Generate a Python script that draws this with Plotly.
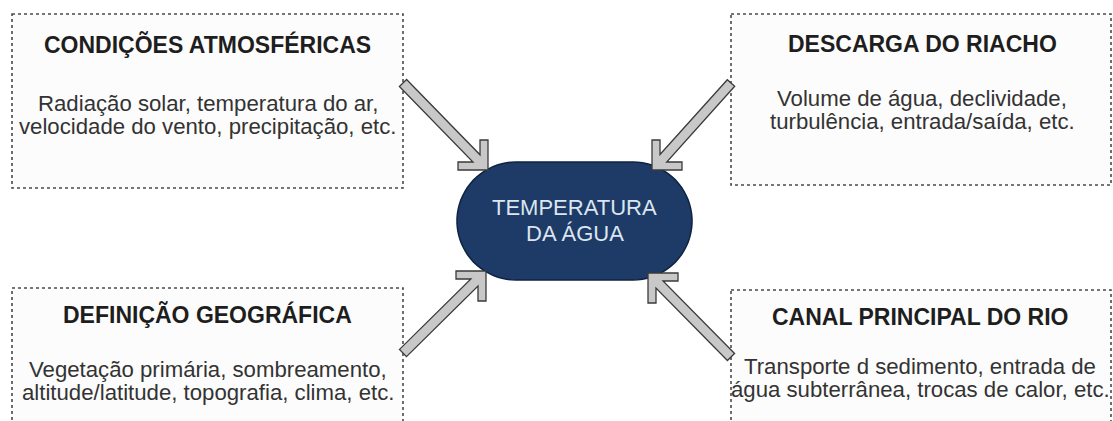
import numpy as np
import plotly.graph_objects as go

# ---- content ----
box_titles = ["CONDIÇÕES ATMOSFÉRICAS", "DESCARGA DO RIACHO",
              "DEFINIÇÃO GEOGRÁFICA", "CANAL PRINCIPAL DO RIO"]
box_lines = [["Radiação solar, temperatura do ar,", "velocidade do vento, precipitação, etc."],
             ["Volume de água, declividade,", "turbulência, entrada/saída, etc."],
             ["Vegetação primária, sombreamento,", "altitude/latitude, topografia, clima, etc."],
             ["Transporte d sedimento, entrada de", "água subterrânea, trocas de calor, etc."]]
center_lines = ["TEMPERATURA", "DA ÁGUA"]

# ---- layout geometry (pixels, y down) ----
W, H = 1113, 421
boxes = [(12, 14, 403, 188), (731, 14, 1111, 185),
         (12, 288, 403, 440), (731, 290, 1111, 440)]
text_cx = [207.5, 922, 207.5, 920]
title_y = [44, 44, 314, 317]
line1_y = [103, 98, 369, 366]
LINE_GAP = 23.5
arrow_start = [(403, 83), (731, 83), (403, 353), (731, 357)]
arrow_tip = [(488, 170), (652, 170), (486, 271), (648, 273)]
oval = (457, 162, 692, 280)
center_y = [207, 233]

fig = go.Figure()
fig.add_trace(go.Scatter(x=[0, W], y=[0, H], mode="markers", marker=dict(opacity=0),
                         hoverinfo="skip", showlegend=False))

shapes = []
annotations = []
font = "Liberation Sans, Arial, sans-serif"

for i, (x0, y0, x1, y1) in enumerate(boxes):
    shapes.append(dict(type="rect", x0=x0, y0=y0, x1=x1, y1=y1,
                       line=dict(color="#4a4a4a", width=1.6, dash="dot"),
                       fillcolor="rgba(252,252,252,1)", layer="below"))
    cx = text_cx[i]
    annotations.append(dict(x=cx, y=title_y[i], text="<b>" + box_titles[i] + "</b>",
                            showarrow=False, xanchor="center", yanchor="middle",
                            font=dict(family=font, size=23, color="#1e1e1e")))
    for k, line in enumerate(box_lines[i]):
        annotations.append(dict(x=cx, y=line1_y[i] + k * LINE_GAP, text=line,
                                showarrow=False, xanchor="center", yanchor="middle",
                                font=dict(family=font, size=22.2, color="#333333")))

# stadium oval
ox0, oy0, ox1, oy1 = oval
r = (oy1 - oy0) / 2
cy = (oy0 + oy1) / 2
pts = []
for a in np.linspace(-np.pi / 2, np.pi / 2, 40):
    pts.append((ox1 - r + r * np.cos(a), cy + r * np.sin(a)))
for a in np.linspace(np.pi / 2, 3 * np.pi / 2, 40):
    pts.append((ox0 + r + r * np.cos(a), cy + r * np.sin(a)))
path = "M " + " L ".join(f"{x:.1f},{y:.1f}" for x, y in pts) + " Z"
shapes.append(dict(type="path", path=path, fillcolor="#1d3b66",
                   line=dict(color="#0e2342", width=1.5)))
for k, line in enumerate(center_lines):
    annotations.append(dict(x=(ox0 + ox1) / 2, y=center_y[k], text=line, showarrow=False,
                            xanchor="center", yanchor="middle",
                            font=dict(family=font, size=22, color="#dce5f0")))

# block arrows with chevron heads
ARM, THK, SW = 30, 8, 10
for S, T in zip(arrow_start, arrow_tip):
    Sx, Sy = S
    Tx, Ty = T
    sx = 1 if Tx > Sx else -1
    sy = 1 if Ty > Sy else -1
    Ix, Iy = Tx - sx * THK, Ty - sy * THK
    d = np.array([Ix - Sx, Iy - Sy], float)
    d /= np.linalg.norm(d)
    n = np.array([-d[1], d[0]])
    edges = []
    for sgn in (1, -1):
        E = np.array([Sx, Sy]) + sgn * n * SW / 2
        tx = (Ix - E[0]) / d[0]
        ty = (Iy - E[1]) / d[1]
        if tx < ty:
            edges.append(("x", E, E + d * tx))
        else:
            edges.append(("y", E, E + d * ty))
    ex = [e for e in edges if e[0] == "x"][0]
    ey = [e for e in edges if e[0] == "y"][0]
    poly = [tuple(ex[1]), tuple(ex[2]),
            (Ix, Ty - sy * ARM), (Tx, Ty - sy * ARM), (Tx, Ty),
            (Tx - sx * ARM, Ty), (Tx - sx * ARM, Iy),
            tuple(ey[2]), tuple(ey[1])]
    p = "M " + " L ".join(f"{x:.1f},{y:.1f}" for x, y in poly) + " Z"
    shapes.append(dict(type="path", path=p, fillcolor="#c8c8c8",
                       line=dict(color="#3a3a3a", width=1.3)))

fig.update_layout(
    width=W, height=H, margin=dict(l=0, r=0, t=0, b=0),
    paper_bgcolor="white", plot_bgcolor="white",
    xaxis=dict(range=[0, W], visible=False, fixedrange=True),
    yaxis=dict(range=[H, 0], visible=False, fixedrange=True),
    shapes=shapes, annotations=annotations, showlegend=False,
)
fig.write_html("out.html", config={"displayModeBar": False},
               post_script="document.body.style.margin='0px';document.body.style.overflow='hidden';")
